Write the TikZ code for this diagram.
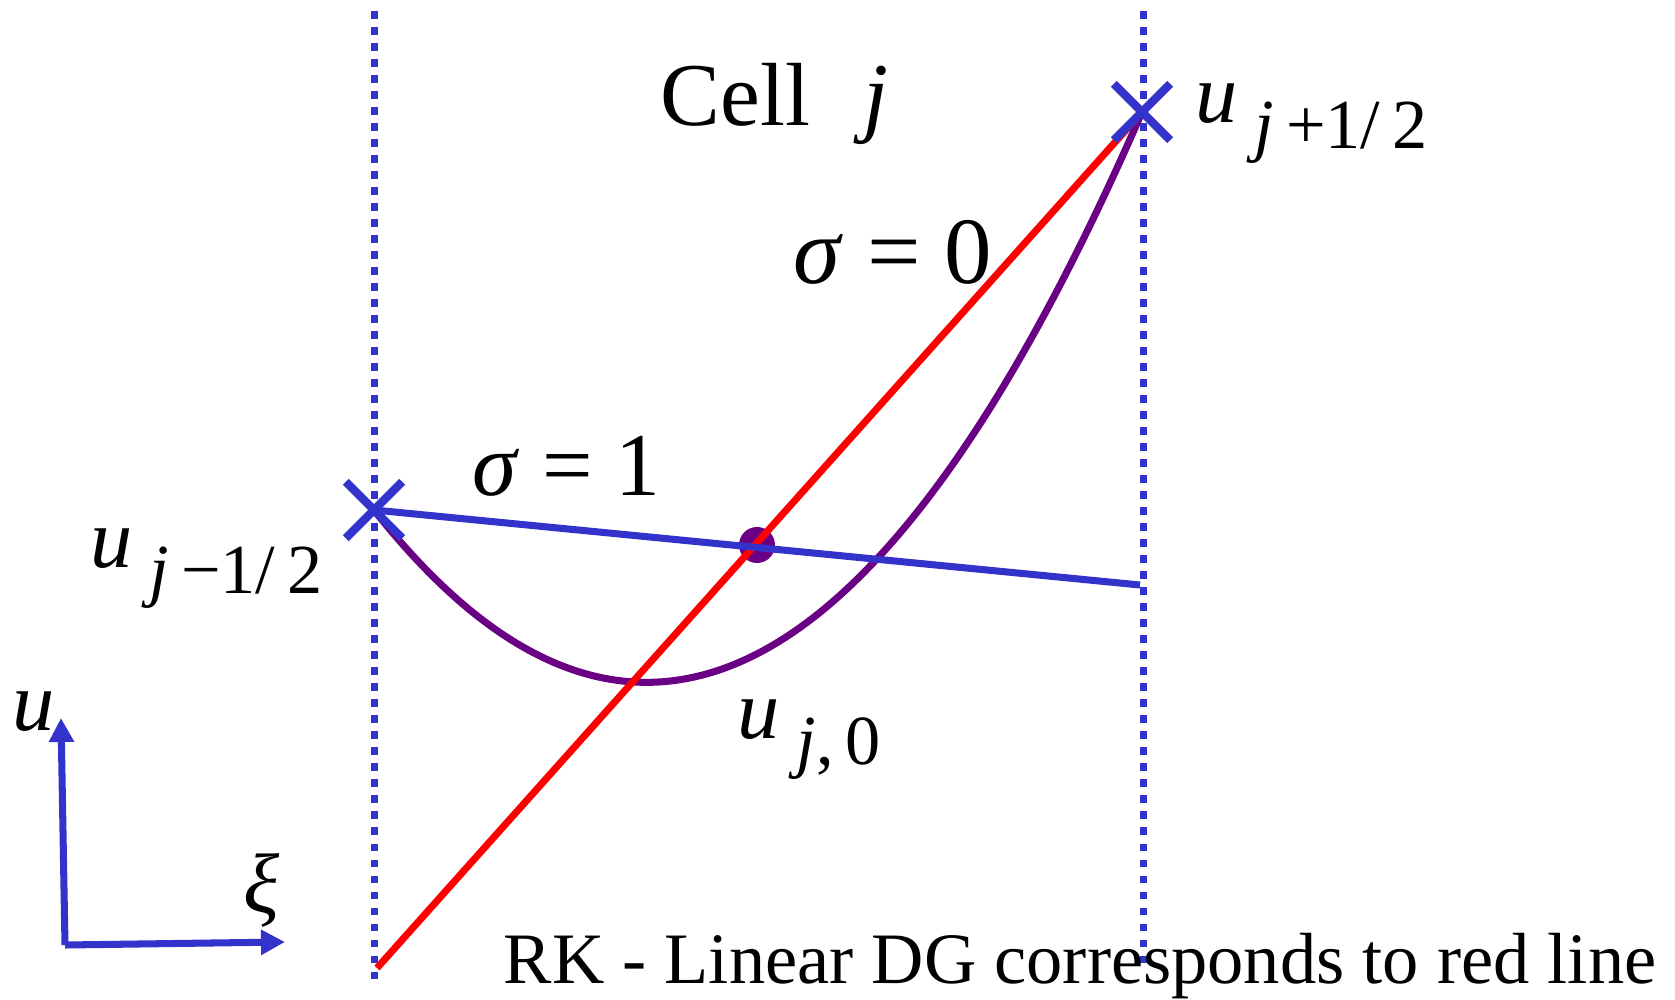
\documentclass[tikz,border=0pt]{standalone}
\usepackage{fontspec}
\setmainfont{Liberation Serif}
\definecolor{CellBlue}{HTML}{3333CC}
\definecolor{CellRed}{HTML}{FF0000}
\definecolor{CellPurple}{HTML}{6A0084}
\usetikzlibrary{positioning,arrows.meta,shapes.misc}
\newcommand{\ulab}[1]{\textit{u}\hspace{0.2em}\raisebox{-7.4pt}{\fontsize{20}{24}\selectfont #1}}

\begin{document}
\begin{tikzpicture}[x=0.01cm, y=-0.01cm,
    edge/.style={draw=CellBlue, line width=0.07cm, dash pattern=on 0.075cm off 0.085cm},
    xmark/.style={cross out, draw=CellBlue, line width=2.4pt, minimum size=0.48cm, inner sep=0pt},
    lbl/.style={anchor=base west, inner sep=0pt, font=\fontsize{24}{28}\selectfont},
    axis/.style={draw=CellBlue, line width=2pt, -{Triangle[length=0.24cm, width=0.24cm]}}]
    \useasboundingbox (0,0) rectangle (1675,1000);
    % cell edges
    \coordinate (lt) at (374,11);  \coordinate (lb) at (374,985);
    \coordinate (rt) at (1143,11); \coordinate (rb) at (1143,965);
    \draw[edge] (lt) -- (lb);
    \draw[edge] (rt) -- (rb);
    % end values and lines
    \coordinate (ul) at (374,510);
    \coordinate (ur) at (1142,112);
    \coordinate (ue) at (1140,585);
    \coordinate (rs) at (377,968);
    \draw[CellPurple, line width=2pt] (ul) .. controls (630,834) and (886,701) .. (ur);
    \node[circle, fill=CellPurple, minimum size=0.36cm, inner sep=0pt] (avg) at (757,545) {};
    \draw[CellRed, line width=2pt] (rs) -- (ur);
    \draw[CellBlue, line width=2pt] (ul) -- (ue);
    \node[xmark] (xl) at (ul) {};
    \node[xmark] (xr) at (ur) {};
    % labels
    \node[lbl, font=\fontsize{25.5}{30}\selectfont] (cell) at (660,125) {Cell};
    \node[lbl, font=\fontsize{25.5}{30}\selectfont] (cj) at (863,125) {\textit{j}};
    \node[lbl, font=\fontsize{27}{32}\selectfont] (s0) at (793,283) {\textit{σ} = 0};
    \node[lbl, font=\fontsize{25.5}{30}\selectfont] (s1) at (472,495) {\textit{σ} = 1};
    \node[lbl] (lr) at (1195,122) {\ulab{\textit{j}\thinspace+1/\thinspace2}};
    \node[lbl] (ll) at (90,567) {\ulab{\textit{j}\thinspace−1/\thinspace2}};
    \node[lbl] (l0) at (737,738) {\ulab{\textit{j},\thinspace0}};
    % axes
    \coordinate (o) at (65,945);
    \coordinate (ou) at (61,718);
    \coordinate (ox) at (285,942);
    \draw[axis] (o) -- (ou);
    \draw[axis] (o) -- (ox);
    \node[lbl] (au) at (12,730) {\textit{u}};
    \node[lbl] (ax) at (243,912) {\textit{ξ}};
    \node[lbl, font=\fontsize{20.6}{24}\selectfont] (note) at (503,983) {RK - Linear DG corresponds to red line};
  \end{tikzpicture}
\end{document}
